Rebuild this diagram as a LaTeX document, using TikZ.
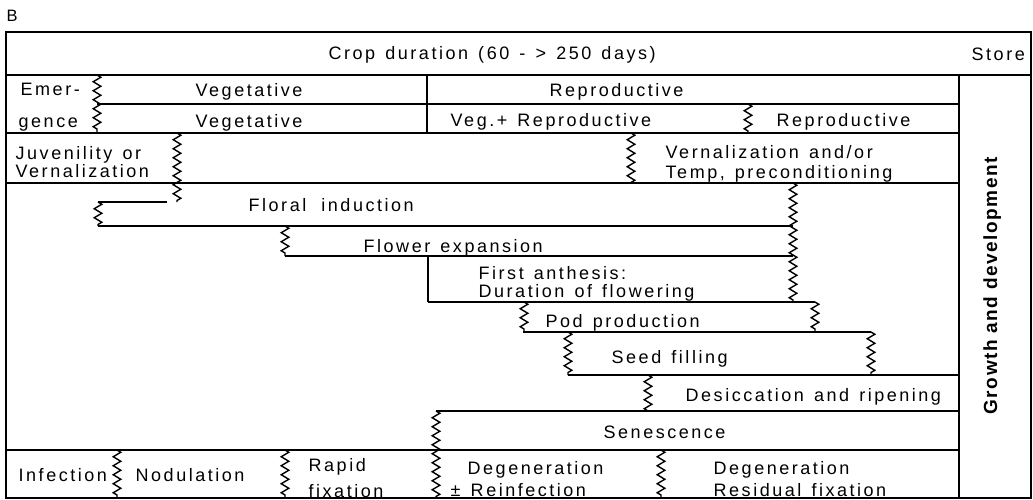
\documentclass[tikz,border=0pt]{standalone}
\usepackage{fontspec}
\setmainfont{Liberation Sans}[LetterSpace=14,WordSpace=1.35]
\newfontfamily\gfont{Liberation Sans}[LetterSpace=8]
\usetikzlibrary{decorations.pathmorphing}
\begin{document}
\begin{tikzpicture}[x=1pt,y=-1pt,line width=1.4pt,
  squig/.style={decorate,decoration={zigzag,segment length=9pt,amplitude=3.8pt}},
  lbl/.style={anchor=base west,inner sep=0pt,font=\fontsize{18}{20}\selectfont},
  glbl/.style={anchor=base west,inner sep=0pt,rotate=90,font=\gfont\bfseries\fontsize{19}{20}\selectfont}]
\fill[white] (0,0) rectangle (1033,500);
\useasboundingbox (0,0) rectangle (1033,500);
% frame
\draw (6,32) rectangle (1031,498);
% horizontal lines
\draw (6,75) -- (1031,75);
\draw (97,104) -- (959,104);
\draw (6,133) -- (959,133);
\draw (6,183) -- (959,183);
\draw (98,202) -- (167,202);
\draw (98,226) -- (793,226);
\draw (285,256) -- (793,256);
\draw (428,302) -- (815,302);
\draw (523,332) -- (871,332);
\draw (568,375) -- (959,375);
\draw (436,411) -- (959,411);
\draw (6,450) -- (959,450);
% vertical lines
\draw (959,75) -- (959,498);
\draw (427,75) -- (427,133);
\draw (428,256) -- (428,302);
% squiggles
\draw[squig] (97,75) -- (97,133);
\draw[squig] (748,104) -- (748,133);
\draw[squig] (177,133) -- (177,202);
\draw[squig] (631,133) -- (631,183);
\draw[squig] (98,202) -- (98,226);
\draw[squig] (793,183) -- (793,302);
\draw[squig] (285,226) -- (285,256);
\draw[squig] (524,302) -- (524,332);
\draw[squig] (815,302) -- (815,332);
\draw[squig] (568,332) -- (568,375);
\draw[squig] (871,332) -- (871,375);
\draw[squig] (648,375) -- (648,411);
\draw[squig] (436,411) -- (436,498);
\draw[squig] (117,450) -- (117,498);
\draw[squig] (285,450) -- (285,498);
\draw[squig] (661,450) -- (661,498);
% texts
\node[lbl,font=\fontsize{16.5}{18}\selectfont] (b) at (6,22) {B};
\node[lbl] (crop) at (328,60) {Crop duration (60 - > 250 days)};
\node[lbl] (store) at (971,61) {Store};
\node[lbl] (emer) at (20,96) {Emer-};
\node[lbl] (gence) at (18,128) {gence};
\node[lbl] (veg1) at (195,97) {Vegetative};
\node[lbl] (veg2) at (195,128) {Vegetative};
\node[lbl] (rep1) at (549,97) {Reproductive};
\node[lbl] (vegrep) at (450,127) {Veg.+ Reproductive};
\node[lbl] (rep2) at (776,127) {Reproductive};
\node[lbl] (juv1) at (15,160) {Juvenility or};
\node[lbl] (juv2) at (15,177) {Vernalization};
\node[lbl] (vern1) at (665,158) {Vernalization and/or};
\node[lbl] (vern2) at (665,178) {Temp, preconditioning};
\node[lbl] (floral) at (248,211) {Floral\hspace{5pt} induction};
\node[lbl] (flower) at (363,252) {Flower expansion};
\node[lbl] (anth1) at (478,279) {First anthesis:};
\node[lbl] (anth2) at (478,297) {Duration of flowering};
\node[lbl] (pod) at (545,327) {Pod production};
\node[lbl] (seed) at (611,363) {Seed filling};
\node[lbl] (desic) at (685,401) {Desiccation and ripening};
\node[lbl] (senes) at (603,438) {Senescence};
\node[lbl] (infec) at (18,481) {Infection};
\node[lbl] (nodul) at (135,481) {Nodulation};
\node[lbl] (rapid1) at (308,471) {Rapid};
\node[lbl] (rapid2) at (308,497) {fixation};
\node[lbl] (degen1) at (467,474) {Degeneration};
\node[lbl] (reinf) at (450,496) {\char"00B1\ Reinfection};
\node[lbl] (degen2) at (713,474) {Degeneration};
\node[lbl] (resid) at (713,496) {Residual fixation};
\node[glbl] (growth) at (997,415) {Growth and development};
\end{tikzpicture}
\end{document}
